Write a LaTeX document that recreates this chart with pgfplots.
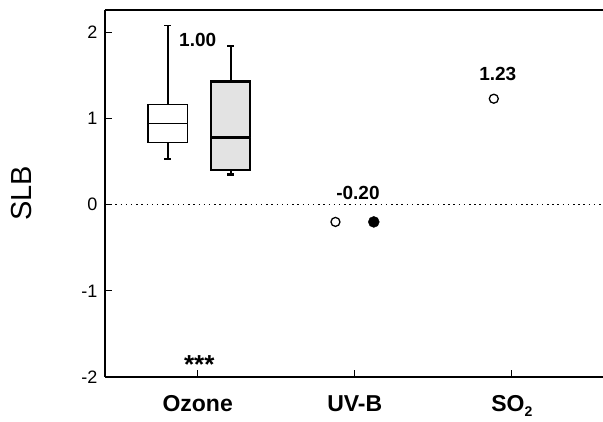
\documentclass[border=0pt]{standalone}
\usepackage{pgfplots}
\pgfplotsset{compat=1.18}
\usepgfplotslibrary{statistics}
\usepackage{fontspec}
\setmainfont{Liberation Sans}
\begin{document}
\begin{tikzpicture}
\path[use as bounding box] (-105pt,-45pt) rectangle (498pt,377pt);
\begin{axis}[
  at={(0,0)}, anchor=south west,
  scale only axis, width=498pt, height=367pt,
  xmin=-0.59, xmax=2.58, ymin=-2, ymax=2.26,
  axis x line*=bottom, axis y line*=left,
  axis line style={line width=1.5pt,-},
  xtick={0,1,2}, xticklabels={Ozone, UV-B, SO\raisebox{-0.45ex}{\fontsize{14}{14}\selectfont 2}},
  ytick={-2,-1,0,1,2}, yticklabels={-2,-1,0,1,2},
  tick align=inside,
  major tick length=7pt,
  tick style={black, line width=1.2pt},
  xticklabel style={font=\fontsize{23}{23}\selectfont\bfseries, anchor=base, yshift=-34.5pt},
  yticklabel style={font=\fontsize{18}{18}\selectfont, anchor=east, xshift=-4pt},
  ylabel={SLB},
  ylabel style={font=\fontsize{29}{29}\selectfont, at={(axis description cs:-0.1667,0.5)}, anchor=center},
  boxplot/draw direction=y,
  clip=false,
  after end axis/.code={\draw[line width=1.5pt] (rel axis cs:0,1) -- (rel axis cs:1,1);},
]
\addplot[black, line width=1.1pt, dash pattern=on 1.5pt off 3.7pt] coordinates {(-0.59,0) (2.58,0)};
\addplot[boxplot prepared={median=0.94, lower quartile=0.72, upper quartile=1.16,
  lower whisker=0.53, upper whisker=2.08, draw position=-0.19, box extend=0.25, whisker extend=0.045},
  boxplot/every median/.style={line width=1.4pt},
  draw=black, fill=white, line width=1.4pt, solid] coordinates {};
\addplot[boxplot prepared={median=0.78, lower quartile=0.40, upper quartile=1.43,
  lower whisker=0.35, upper whisker=1.84, draw position=0.21, box extend=0.25, whisker extend=0.045},
  boxplot/every median/.style={line width=2.2pt},
  draw=black, fill=gray!22, line width=2.2pt, solid] coordinates {};
\addplot[only marks, mark=o, mark size=4.5pt, line width=1.3pt, black] coordinates {(0.877,-0.20) (1.885,1.23)};
\addplot[only marks, mark=*, mark size=5.5pt, black] coordinates {(1.121,-0.20)};
\node[font=\fontsize{19}{19}\selectfont\bfseries] at (axis cs:0,1.91) {1.00};
\node[font=\fontsize{19}{19}\selectfont\bfseries] at (axis cs:1.02,0.14) {-0.20};
\node[font=\fontsize{19}{19}\selectfont\bfseries] at (axis cs:1.91,1.52) {1.23};
\node[font=\fontsize{26}{26}\selectfont\bfseries] at (axis cs:0.01,-1.86) {***};
\end{axis}
\end{tikzpicture}
\end{document}
